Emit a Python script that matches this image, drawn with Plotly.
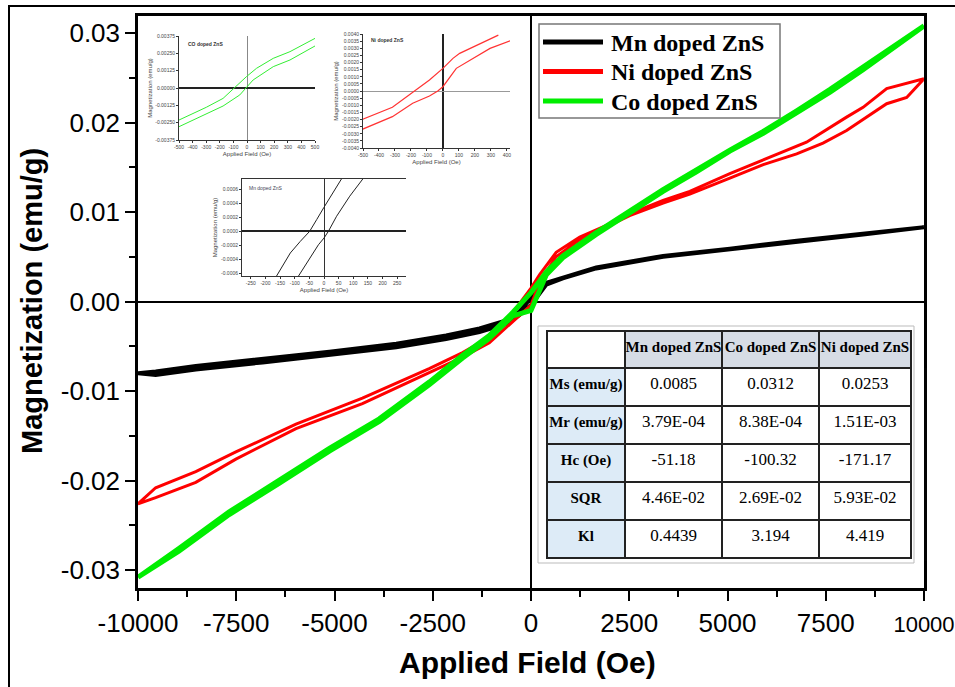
import plotly.graph_objects as go

# ---------------- Main hysteresis data ----------------
mn_desc_H = [10000, 8450, 6760, 5060, 3360, 1660, 810, 390, 0, -290, -630, -1310, -2160, -3430, -5130, -6830, -8530, -9550, -10000]
mn_desc_M = [0.0083, 0.0076, 0.0068, 0.0059, 0.0051, 0.0038, 0.0027, 0.0021, 0.0004, -0.0011, -0.0021, -0.0030, -0.0038, -0.0047, -0.0056, -0.0064, -0.0072, -0.0078, -0.0080]
mn_asc_H = [-10000, -9550, -8530, -6830, -5130, -3430, -2160, -1310, -630, -290, 0, 390, 810, 1660, 3360, 5060, 6760, 8450, 10000]
mn_asc_M = [-0.0080, -0.0082, -0.0076, -0.0068, -0.0060, -0.0051, -0.0042, -0.0034, -0.0025, -0.0015, -0.0004, 0.0019, 0.0026, 0.0037, 0.0050, 0.0058, 0.0067, 0.0075, 0.0083]

ni_desc_H = [10000, 9050, 8450, 8030, 7010, 5910, 5060, 4040, 3360, 2510, 1920, 1240, 640, 220, 0, -460, -1060, -1740, -2590, -4290, -5980, -7510, -8530, -9550, -10000]
ni_desc_M = [0.0249, 0.0238, 0.0217, 0.0206, 0.0178, 0.0158, 0.0143, 0.0123, 0.0113, 0.0098, 0.0085, 0.0072, 0.0055, 0.0030, 0.0015, -0.0012, -0.0040, -0.0057, -0.0075, -0.0108, -0.0137, -0.0168, -0.0190, -0.0208, -0.0226]
ni_asc_H = [-10000, -9550, -8530, -7510, -5980, -4290, -2590, -1740, -1060, -460, 0, 220, 640, 1240, 1920, 2510, 3360, 4040, 5060, 5910, 6760, 7430, 8030, 9050, 9560, 10000]
ni_asc_M = [-0.0226, -0.0219, -0.0202, -0.0176, -0.0142, -0.0114, -0.0079, -0.0062, -0.0046, -0.0022, -0.0004, 0.0022, 0.0050, 0.0069, 0.0083, 0.0096, 0.0110, 0.0120, 0.0138, 0.0153, 0.0165, 0.0177, 0.0191, 0.0221, 0.0228, 0.0249]

co_desc_H = [10000, 9300, 8450, 7610, 6760, 5910, 5060, 4210, 3360, 2510, 1660, 810, 390, 0, -460, -1060, -1740, -2590, -3860, -5130, -6410, -7680, -8960, -10000]
co_desc_M = [0.0308, 0.0287, 0.0263, 0.0237, 0.0213, 0.0190, 0.0169, 0.0147, 0.0125, 0.0101, 0.0077, 0.0051, 0.0033, 0.0010, -0.0012, -0.0038, -0.0060, -0.0090, -0.0131, -0.0164, -0.0200, -0.0235, -0.0276, -0.0308]
co_asc_H = [-10000, -8960, -7680, -6410, -5130, -3860, -2590, -1740, -1060, -460, 0, 390, 810, 1660, 2510, 3360, 4210, 5060, 5910, 6760, 7610, 8450, 9300, 10000]
co_asc_M = [-0.0308, -0.0279, -0.0238, -0.0203, -0.0167, -0.0134, -0.0093, -0.0063, -0.0041, -0.0016, -0.0010, 0.0030, 0.0049, 0.0075, 0.0099, 0.0123, 0.0145, 0.0168, 0.0188, 0.0211, 0.0234, 0.0259, 0.0285, 0.0308]

series_names = ["Mn doped ZnS", "Ni doped ZnS", "Co doped ZnS"]
series_colors = ["black", "#ff0000", "#00ee00"]

# ---------------- Inset data (low-field zoom) ----------------
co_in_desc_H = [500, 316, 193, 70, -4, -90, -176, -299, -500]
co_in_desc_M = [0.00358, 0.00262, 0.00214, 0.00142, 0.00082, 0.0, -0.00075, -0.00139, -0.00231]
co_in_asc_H = [-500, -299, -176, -53, -9, 45, 193, 316, 500]
co_in_asc_M = [-0.00279, -0.0019, -0.0013, -0.0005, 0.0, 0.00058, 0.00154, 0.00202, 0.00303]

ni_in_desc_H = [347, 211, 105, 63, 0, -84, -179, -316, -505]
ni_in_desc_M = [0.00392, 0.00322, 0.00264, 0.00229, 0.00159, 0.00077, 0.0, -0.00114, -0.00199]
ni_in_asc_H = [-505, -316, -189, -84, -32, 0, 84, 189, 295, 421]
ni_in_asc_M = [-0.00269, -0.0018, -0.00086, -0.00035, 0.0, 0.0003, 0.00159, 0.00229, 0.00299, 0.00353]

mn_in_desc_H = [60, 26, 0, -25, -49, -81, -115, -162]
mn_in_desc_M = [0.000753, 0.000528, 0.000345, 0.000168, 0.0, -0.000144, -0.00031, -0.00064]
mn_in_asc_H = [-87, -47, -19, 0, 15, 43, 88, 133]
mn_in_asc_M = [-0.00064, -0.000384, -0.000192, -0.000096, 0.0, 0.000216, 0.000504, 0.000753]

# ---------------- Tick labels ----------------
x_tickvals = [-10000, -7500, -5000, -2500, 0, 2500, 5000, 7500, 10000]
x_ticktext = ["-10000", "-7500", "-5000", "-2500", "0", "2500", "5000", "7500", "10000"]
y_tickvals = [-0.03, -0.02, -0.01, 0.0, 0.01, 0.02, 0.03]
y_ticktext = ["-0.03", "-0.02", "-0.01", "0.00", "0.01", "0.02", "0.03"]

co_in_xt = [-500, -400, -300, -200, -100, 0, 100, 200, 300, 400, 500]
co_in_yt = [-0.00375, -0.0025, -0.00125, 0.0, 0.00125, 0.0025, 0.00375]
co_in_ytt = ["-0.00375", "-0.00250", "-0.00125", "0.00000", "0.00125", "0.00250", "0.00375"]
ni_in_xt = [-500, -400, -300, -200, -100, 0, 100, 200, 300, 400]
ni_in_yt = [-0.004, -0.0035, -0.003, -0.0025, -0.002, -0.0015, -0.001, -0.0005, 0.0,
            0.0005, 0.001, 0.0015, 0.002, 0.0025, 0.003, 0.0035, 0.004]
ni_in_ytt = ["-0.0040", "-0.0035", "-0.0030", "-0.0025", "-0.0020", "-0.0015", "-0.0010", "-0.0005", "0.0000",
             "0.0005", "0.0010", "0.0015", "0.0020", "0.0025", "0.0030", "0.0035", "0.0040"]
mn_in_xt = [-250, -200, -150, -100, -50, 0, 50, 100, 150, 200, 250]
mn_in_yt = [-0.0006, -0.0004, -0.0002, 0.0, 0.0002, 0.0004, 0.0006]
mn_in_ytt = ["-0.0006", "-0.0004", "-0.0002", "0.0000", "0.0002", "0.0004", "0.0006"]

# ---------------- Table ----------------
table_header = ["", "Mn doped ZnS", "Co doped ZnS", "Ni doped ZnS"]
table_params = ["Ms (emu/g)", "Mr (emu/g)", "Hc (Oe)", "SQR", "Kl"]
table_mn = ["0.0085", "3.79E-04", "-51.18", "4.46E-02", "0.4439"]
table_co = ["0.0312", "8.38E-04", "-100.32", "2.69E-02", "3.194"]
table_ni = ["0.0253", "1.51E-03", "-171.17", "5.93E-02", "4.419"]

# ---------------- Figure ----------------
W, H = 955, 687
L, R, T, B = 138, 31, 16, 99
PW, PH = W - L - R, H - T - B


def px_x(px):
    return (px - L) / PW


def px_y(py):
    return (H - B - py) / PH


def nb(s):
    return s.replace(" ", "\u00a0")


fig = go.Figure()

main_H = [mn_desc_H + mn_asc_H, ni_desc_H + ni_asc_H, co_desc_H + co_asc_H]
main_M = [mn_desc_M + mn_asc_M, ni_desc_M + ni_asc_M, co_desc_M + co_asc_M]
main_w = [4, 3, 5]
for hv, mv, nm, col, w in zip(main_H, main_M, series_names, series_colors, main_w):
    fig.add_trace(go.Scatter(x=hv, y=mv, mode="lines", name=nm, showlegend=False,
                             line=dict(color=col, width=w)))

# insets
for hv, mv, ax, col, w in [
    (co_in_desc_H, co_in_desc_M, 2, "#33ee33", 1), (co_in_asc_H, co_in_asc_M, 2, "#33ee33", 1),
    (ni_in_desc_H, ni_in_desc_M, 3, "#ff3333", 1.2), (ni_in_asc_H, ni_in_asc_M, 3, "#ff3333", 1.2),
    (mn_in_desc_H, mn_in_desc_M, 4, "#222222", 1), (mn_in_asc_H, mn_in_asc_M, 4, "#222222", 1),
]:
    fig.add_trace(go.Scatter(x=hv, y=mv, mode="lines", xaxis="x%d" % ax, yaxis="y%d" % ax,
                             showlegend=False, line=dict(color=col, width=w)))

# table
fig.add_trace(go.Table(
    domain=dict(x=[px_x(547), px_x(911)], y=[px_y(561), px_y(331)]),
    columnwidth=[78, 97, 97, 92],
    header=dict(values=["<b>%s</b>" % nb(h) if h else "" for h in table_header],
                fill_color=["white", "#d6dce5", "#d6dce5", "#d6dce5"],
                line=dict(color="#222222", width=1.2),
                align="center", height=37,
                font=dict(family="Liberation Serif", size=15, color="black")),
    cells=dict(values=[["<b>%s</b>" % nb(p) for p in table_params], table_mn, table_co, table_ni],
               fill_color=["#ddebf7", "white", "white", "white"],
               line=dict(color="#222222", width=1.2),
               align="center", height=38,
               font=dict(family="Liberation Serif", size=[15, 17, 17, 17], color="black")),
))

# the last x label sits at the figure's right edge: render it slightly smaller so it stays inside
x_ticktext_shown = list(x_ticktext[:-1]) + ['<span style="font-size:22px">%s</span>' % x_ticktext[-1]]

axis_font = dict(family="Liberation Sans, Arial", size=26, color="black")
fig.update_layout(
    width=W, height=H,
    margin=dict(l=L, r=R, t=T, b=B, autoexpand=False),
    paper_bgcolor="white", plot_bgcolor="white",
    showlegend=False,
    xaxis=dict(domain=[0, 1], range=[-10000, 10000], showgrid=False,
               showline=True, linecolor="black", linewidth=2.5, mirror=True,
               zeroline=True, zerolinecolor="black", zerolinewidth=2,
               ticks="outside", ticklen=10, tickwidth=2, tickcolor="black",
               tickvals=x_tickvals, ticktext=x_ticktext_shown, tickfont=axis_font,
               ticklabeloverflow="allow",
               minor=dict(dtick=1250, ticks="outside", ticklen=6, tickwidth=2, tickcolor="black", showgrid=False),
               automargin=False),
    yaxis=dict(domain=[0, 1], range=[-0.0320, 0.0319], showgrid=False,
               showline=True, linecolor="black", linewidth=2.5, mirror=True,
               zeroline=True, zerolinecolor="black", zerolinewidth=2,
               ticks="outside", ticklen=10, tickwidth=2, tickcolor="black",
               tickvals=y_tickvals, ticktext=y_ticktext, tickfont=axis_font,
               minor=dict(dtick=0.005, ticks="outside", ticklen=6, tickwidth=2, tickcolor="black", showgrid=False),
               automargin=False),
)

inset_font = dict(family="Liberation Sans, Arial", size=5, color="#444444")
inset_title_font = dict(family="Liberation Sans, Arial", size=6, color="#444444")


def inset(n, xpx, ypx, xr, yr, xt, yt, ytt, xz, yz, mirror_x=False):
    fig.layout["xaxis%d" % n] = dict(
        domain=[px_x(xpx[0]), px_x(xpx[1])], anchor="y%d" % n, range=xr,
        showgrid=False, showline=True, linecolor="#333333", linewidth=1, mirror=mirror_x,
        zeroline=True, zerolinecolor=xz[0], zerolinewidth=xz[1],
        ticks="outside", ticklen=2, tickwidth=0.8, tickcolor="#333333",
        tickvals=xt, ticktext=[str(v) for v in xt], tickfont=inset_font,
        title=dict(text="Applied Field (Oe)", font=inset_title_font, standoff=2),
        automargin=False)
    fig.layout["yaxis%d" % n] = dict(
        domain=[px_y(ypx[1]), px_y(ypx[0])], anchor="x%d" % n, range=yr,
        showgrid=False, showline=True, linecolor="#333333", linewidth=1,
        zeroline=True, zerolinecolor=yz[0], zerolinewidth=yz[1],
        ticks="outside", ticklen=2, tickwidth=0.8, tickcolor="#333333",
        tickvals=yt, ticktext=ytt, tickfont=inset_font,
        title=dict(text="Magnetization (emu/g)", font=inset_title_font, standoff=2),
        automargin=False)


inset(2, (179, 315), (36, 140), [-500, 500], [-0.00375, 0.00375], co_in_xt, co_in_yt, co_in_ytt,
      ("#888888", 0.8), ("#222222", 1.5))
inset(3, (363, 510), (34, 148), [-500, 420], [-0.004, 0.004], ni_in_xt, ni_in_yt, ni_in_ytt,
      ("#222222", 1.5), ("#999999", 0.8))
inset(4, (242, 406), (179, 276), [-280, 280], [-0.00064, 0.00075], mn_in_xt, mn_in_yt, mn_in_ytt,
      ("#333333", 1), ("#222222", 1.5), mirror_x=True)

annotations = [
    dict(text="<b>Magnetization (emu/g)</b>", xref="paper", yref="paper", x=px_x(32), y=px_y(301),
         textangle=-90, showarrow=False, xanchor="center", yanchor="middle",
         font=dict(family="Liberation Sans, Arial", size=29, color="black")),
    dict(text="<b>Applied Field (Oe)</b>", xref="paper", yref="paper", x=px_x(527), y=px_y(662),
         showarrow=False, xanchor="center", yanchor="middle",
         font=dict(family="Liberation Sans, Arial", size=30, color="black")),
    dict(text="<b>CO doped ZnS</b>", xref="x2 domain", yref="y2 domain", x=0.05, y=0.92,
         showarrow=False, xanchor="left", yanchor="middle", font=dict(family="Liberation Sans", size=5, color="#333")),
    dict(text="<b>Ni doped ZnS</b>", xref="x3 domain", yref="y3 domain", x=0.04, y=0.95,
         showarrow=False, xanchor="left", yanchor="middle", font=dict(family="Liberation Sans", size=5, color="#333")),
    dict(text="Mn doped ZnS", xref="x4 domain", yref="y4 domain", x=0.03, y=0.91,
         showarrow=False, xanchor="left", yanchor="middle", font=dict(family="Liberation Sans", size=5, color="#445")),
]

shapes = [
    # outer picture frame
    dict(type="rect", xref="paper", yref="paper", x0=px_x(9), x1=px_x(975), y0=px_y(700), y1=px_y(6),
         line=dict(color="black", width=2), fillcolor="rgba(0,0,0,0)", layer="above"),
    # frame of pasted table
    dict(type="rect", xref="paper", yref="paper", x0=px_x(538), x1=px_x(914), y0=px_y(563), y1=px_y(326),
         line=dict(color="#bbbbbb", width=1), fillcolor="rgba(0,0,0,0)", layer="below"),
    # legend box
    dict(type="rect", xref="paper", yref="paper", x0=px_x(539), x1=px_x(780), y0=px_y(118), y1=px_y(24),
         line=dict(color="#777777", width=1.5), fillcolor="white", layer="above"),
]

# legend entries (sample line + label) built from the series lists
legend_rows = [42, 71.5, 101]
for nm, col, ry in zip(series_names, series_colors, legend_rows):
    shapes.append(dict(type="line", xref="paper", yref="paper", x0=px_x(543), x1=px_x(603),
                       y0=px_y(ry), y1=px_y(ry), line=dict(color=col, width=5), layer="above"))
    annotations.append(dict(text="<b>%s</b>" % nm, xref="paper", yref="paper", x=px_x(609), y=px_y(ry + 1),
                            showarrow=False, xanchor="left", yanchor="middle",
                            font=dict(family="Liberation Serif", size=24, color="black")))

fig.update_layout(annotations=annotations, shapes=shapes)

fig.write_html("out.html", config={"displayModeBar": False},
               post_script="document.body.style.margin='0px';")
